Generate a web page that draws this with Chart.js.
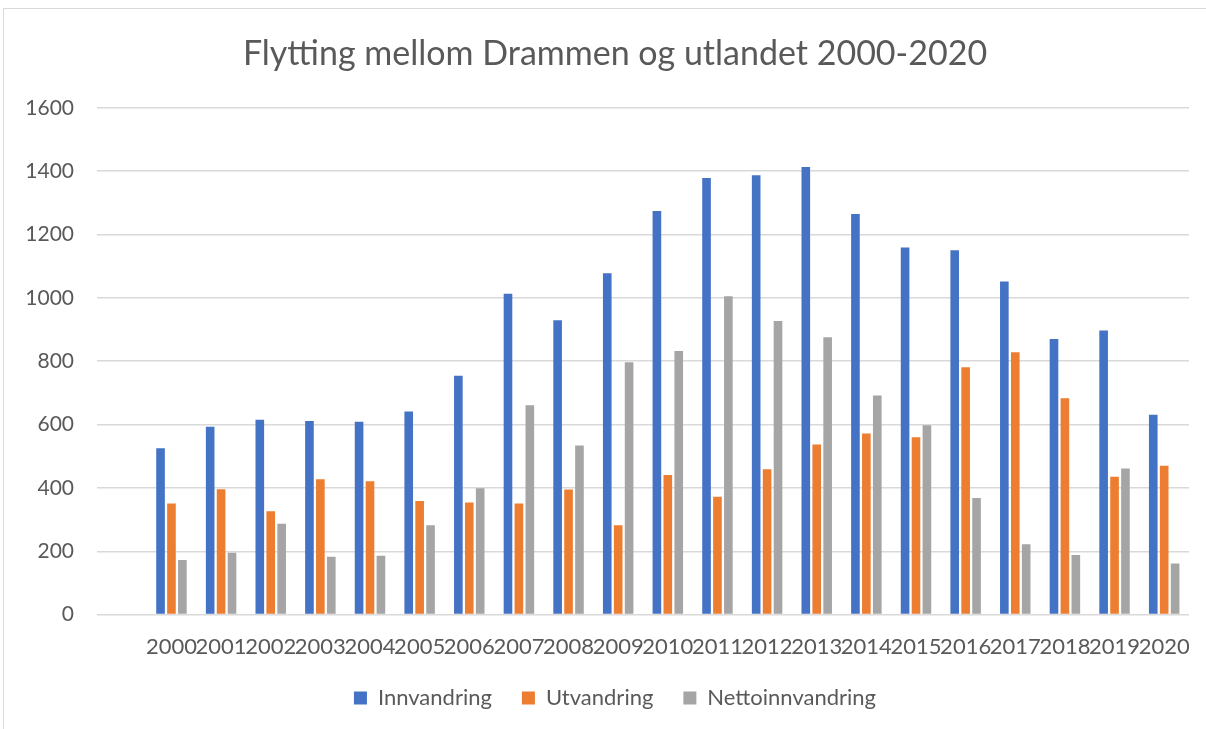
<!DOCTYPE html>
<html>
<head>
<meta charset="utf-8">
<script src="https://cdn.jsdelivr.net/npm/chart.js@4"></script>
<style>
  html, body { margin: 0; padding: 0; background: #fff; overflow: hidden; }
  #wrap {
    position: absolute; left: 3px; top: 8px;
    width: 1240px; height: 721px;
    border-top: 1px solid #d9d9d9; border-left: 1px solid #d9d9d9;
  }
</style>
</head>
<body>
<div id="wrap"><canvas id="c1"></canvas></div>
<script>
(function(divId){
    var years = ['2000','2001','2002','2003','2004','2005','2006','2007','2008','2009','2010',
                 '2011','2012','2013','2014','2015','2016','2017','2018','2019','2020'];
    var innvandring = [525, 593, 615, 611, 609, 641, 754, 1013, 929, 1078, 1274,
                       1378, 1387, 1413, 1265, 1159, 1150, 1052, 870, 897, 631];
    var utvandring = [351, 396, 326, 427, 421, 359, 354, 351, 395, 282, 441,
                      372, 459, 537, 572, 560, 781, 828, 683, 435, 470];
    var netto = [172, 195, 287, 183, 186, 282, 399, 661, 534, 797, 832,
                 1005, 927, 876, 692, 598, 368, 222, 188, 461, 161];
    var yTicks = [0, 200, 400, 600, 800, 1000, 1200, 1400, 1600];

    // the source chart has an empty first category
    var labels = [''].concat(years);
    var pad = (arr) => [null].concat(arr);

    var font = "Lato, 'Open Sans', sans-serif";
    var textColor = '#595959';

    var data = {
        labels: labels,
        datasets: [
            { label: 'Innvandring', data: pad(innvandring), backgroundColor: '#4472C4' },
            { label: 'Utvandring', data: pad(utvandring), backgroundColor: '#ED7D31' },
            { label: 'Nettoinnvandring', data: pad(netto), backgroundColor: '#A5A5A5' }
        ]
    };

    var options = {
        responsive: true,
        maintainAspectRatio: false,
        animation: false,
        layout: { padding: { left: 0, right: 18, top: 0, bottom: 11 } },
        datasets: { bar: { categoryPercentage: 0.66, barPercentage: 0.79 } },
        plugins: {
            title: {
                display: true,
                text: 'Flytting mellom Drammen og utlandet 2000-2020',
                color: textColor,
                font: { family: font, size: 34, weight: '400' },
                padding: { top: 25, bottom: 33 }
            },
            legend: {
                position: 'bottom',
                labels: {
                    color: textColor,
                    font: { family: font, size: 22 },
                    boxWidth: 13, boxHeight: 13,
                    padding: 30
                }
            },
            tooltip: { enabled: false }
        },
        scales: {
            x: {
                grid: { display: false },
                border: { display: false },
                afterFit: (scale) => { scale.height = scale.height - 14; },
                ticks: {
                    color: textColor,
                    font: { family: font, size: 22 },
                    autoSkip: false, maxRotation: 0, minRotation: 0,
                    padding: 11
                }
            },
            y: {
                min: 0, max: 1600,
                afterFit: (scale) => { scale.width = 93; },
                afterBuildTicks: (scale) => { scale.ticks = yTicks.map((v) => ({ value: v })); },
                grid: { color: '#d9d9d9', lineWidth: 1.5, drawTicks: false },
                border: { display: false },
                ticks: {
                    color: textColor,
                    font: { family: font, size: 21 },
                    padding: 23,
                    callback: (v) => String(v)
                }
            },
            // empty spacer axis so the title and legend sit where the original has them
            yRight: {
                position: 'right',
                display: true,
                grid: { display: false },
                border: { display: false },
                ticks: { display: false },
                afterFit: (scale) => { scale.width = 37; }
            }
        }
    };

    var div = document.getElementById(divId);
    if (!div)
        return;

    var ctx = div.getContext("2d");
    var chart = new Chart(ctx, {
        type: 'bar',
        data: data,
        options: options
    });
})("c1");
</script>
</body>
</html>
